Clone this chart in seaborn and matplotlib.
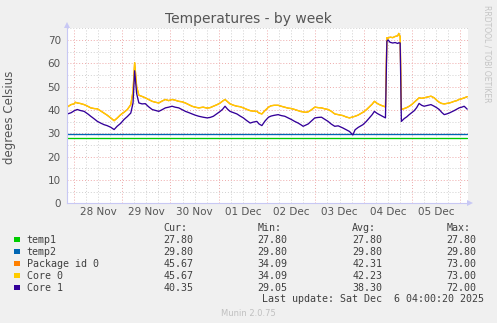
import matplotlib
matplotlib.use("Agg")
import matplotlib.pyplot as plt
import pandas as pd
import seaborn as sns
from matplotlib.patches import Rectangle
from matplotlib.ticker import MultipleLocator, FuncFormatter, NullFormatter

# ---------------------------------------------------------------- data
# sample times, hours after 28 Nov 00:00
hours = [
    -3.2, -1.4, 0.1, 0.8, 1.7, 3.1, 5.1, 7.1, 8.4, 10.1, 11.7, 13.5, 15.0, 16.5,
    18.3, 20.0, 21.5, 23.3, 24.9, 26.6, 28.3, 29.4, 30.2, 31.2, 32.3, 33.9, 35.5,
    37.1, 38.9, 40.6, 42.2, 43.8, 45.5, 47.1, 48.8, 50.3, 52.1, 53.8, 55.4, 57.0,
    58.7, 60.2, 62.1, 64.2, 66.2, 67.7, 69.3, 71.2, 72.7, 73.9, 75.1, 76.4, 77.6,
    79.4, 81.0, 82.6, 84.2, 85.8, 87.6, 89.1, 90.9, 92.0, 93.4, 95.0, 96.7, 98.0,
    99.5, 101.5, 103.0, 104.8, 106.4, 108.1, 109.7, 111.4, 112.9, 113.9, 115.1,
    116.4, 117.9, 119.7, 121.4, 123.0, 124.6, 126.3, 127.8, 129.6, 131.3, 133.6,
    135.3, 136.9, 138.6, 139.7, 141.2, 143.6, 145.2, 146.8, 148.2, 149.3, 150.7,
    151.8, 153.2, 154.8, 155.5, 156.1, 157.1, 158.4, 159.6, 160.9, 161.4, 162.1,
    162.7, 164.1, 165.3, 166.6, 167.8, 169.1, 170.3, 171.5, 172.8, 174.0, 175.5,
    177.4, 179.0, 180.2, 181.5, 182.7, 184.0, 185.2, 186.5, 187.7, 188.9, 190.2,
    191.4, 192.7, 193.9, 195.4,
]

core0 = [
    41.3, 42.3, 42.6, 43.3, 43.0, 42.8, 42.3, 41.5, 40.9, 40.6, 40.5, 39.5, 38.7, 37.8,
    36.6, 35.4, 36.5, 38.0, 39.0, 40.2, 42.3, 48.0, 60.3, 50.0, 46.3, 45.8, 45.2,
    44.5, 43.7, 43.3, 43.0, 43.8, 44.5, 44.0, 44.5, 44.2, 43.7, 43.5, 43.0, 42.3,
    41.6, 41.2, 40.9, 41.2, 40.8, 41.0, 41.6, 42.3, 43.0, 43.8, 44.5, 43.5, 42.6,
    42.0, 41.6, 41.4, 40.9, 40.3, 39.7, 39.5, 39.4, 38.7, 38.3, 39.8, 41.2, 41.8,
    42.0, 42.0, 41.6, 41.2, 40.8, 40.6, 40.2, 39.7, 39.3, 39.2, 39.0,
    39.2, 40.0, 41.2, 41.0, 40.9, 40.5, 40.2, 39.5, 38.3, 38.0, 37.6,
    37.0, 36.6, 37.0, 37.3, 37.8, 39.0, 40.0, 41.3, 42.5, 43.7, 42.8,
    42.3, 41.8, 41.3, 71.0, 70.8, 71.2, 71.0, 71.5, 71.8, 72.8, 71.5,
    40.2, 40.6, 41.0, 41.6, 42.3, 43.3, 44.2, 45.2, 45.0, 45.2, 45.5,
    45.9, 45.2, 44.2, 43.3, 42.8, 42.6, 42.8, 43.0, 43.3, 43.7, 44.0,
    44.5, 44.8, 45.2, 45.67,
]

core1 = [
    38.3, 38.8, 39.6, 39.9, 40.2, 39.8, 39.4, 38.2, 37.3, 36.2, 35.1, 34.3, 33.7, 33.3,
    32.6, 31.6, 33.0, 34.3, 35.9, 37.2, 38.7, 43.0, 56.8, 47.0, 43.0, 42.6, 42.7,
    41.4, 40.2, 39.8, 39.4, 40.1, 40.9, 41.2, 41.6, 41.2, 40.9, 40.1, 39.4, 38.9,
    38.3, 37.8, 37.3, 36.9, 36.6, 36.8, 37.3, 38.5, 39.4, 40.3, 41.6, 40.3, 39.4,
    38.8, 38.3, 37.4, 36.6, 35.5, 34.4, 34.8, 35.1, 34.0, 33.3, 35.3, 36.9, 37.4,
    37.7, 38.0, 37.6, 37.3, 36.6, 35.9, 35.1, 34.4, 33.6, 33.0, 33.5,
    34.0, 35.2, 36.6, 36.8, 36.9, 36.0, 35.1, 34.0, 33.0, 33.2, 32.3,
    31.5, 30.8, 29.3, 31.5, 32.5, 33.7, 35.0, 36.6, 38.0, 39.4, 38.5,
    38.0, 37.4, 36.6, 69.5, 70.0, 69.0, 68.7, 68.9, 68.5, 68.8, 68.7,
    35.1, 36.3, 37.0, 38.0, 38.8, 39.7, 41.0, 42.8, 42.0, 41.6, 41.9,
    42.3, 41.6, 41.0, 40.2, 39.0, 38.0, 38.3, 38.7, 39.2, 39.7, 40.3,
    40.9, 41.2, 41.6, 40.35,
]

# the package sensor follows Core 0 and is drawn underneath it
package_id0 = list(core0)

# the two board sensors hold a fixed reading all week
temp_hours = [hours[0], hours[-1]]
temp1 = [27.80, 27.80]
temp2 = [29.80, 29.80]

series_names = ["temp1", "temp2", "Package id 0", "Core 0", "Core 1"]
series_colors = ["#00cc00", "#0066b3", "#ff8000", "#ffcc00", "#330099"]

stat_cur = [27.80, 29.80, 45.67, 45.67, 40.35]
stat_min = [27.80, 29.80, 34.09, 34.09, 29.05]
stat_avg = [27.80, 29.80, 42.31, 42.23, 38.30]
stat_max = [27.80, 29.80, 73.00, 73.00, 72.00]

day_labels = ["28 Nov", "29 Nov", "30 Nov", "01 Dec", "02 Dec", "03 Dec", "04 Dec", "05 Dec"]
last_update = "Last update: Sat Dec  6 04:00:20 2025"

# ---------------------------------------------------------------- frame
parts = []
for name, t, v in [
    ("temp1", temp_hours, temp1),
    ("temp2", temp_hours, temp2),
    ("Package id 0", hours, package_id0),
    ("Core 0", hours, core0),
    ("Core 1", hours, core1),
]:
    parts.append(pd.DataFrame({"hours": t, "value": v, "series": name}))
df = pd.concat(parts, ignore_index=True)

# ---------------------------------------------------------------- figure
W, H, DPI = 497, 323, 100
BG = "#f0f0f0"
TXT = "#555555"
AXIS = "#c8c8f4"

sns.set_theme(style="white")
plt.rcParams["font.family"] = ["DejaVu Sans"]

fig = plt.figure(figsize=(W / DPI, H / DPI), dpi=DPI, facecolor=BG)

left_px, right_px, top_px, bottom_px = 67.0, 467.6, 27.6, 203.3
ax = fig.add_axes([left_px / W, 1 - bottom_px / H,
                   (right_px - left_px) / W, (bottom_px - top_px) / H])
ax.set_facecolor("white")

sns.lineplot(
    data=df, x="hours", y="value", hue="series",
    hue_order=series_names, palette=dict(zip(series_names, series_colors)),
    estimator=None, sort=False, legend=False, linewidth=0.95, ax=ax,
)

ax.set_xlim(-3.4, 195.6)
ax.set_ylim(0, 75.3)
ax.set_xlabel("")
ax.set_ylabel("")

# y axis: red grid every 10, grey every 5
ax.yaxis.set_major_locator(MultipleLocator(10))
ax.yaxis.set_minor_locator(MultipleLocator(5))
ax.grid(which="major", axis="y", color="#eeaaaa", linestyle=(0, (1, 2)), linewidth=0.7)
ax.grid(which="minor", axis="y", color="#d0d0d0", linestyle=(0, (1, 2)), linewidth=0.7)

# x axis: red grid at midnight, grey every 6 h, day names at noon
ax.xaxis.set_major_locator(MultipleLocator(24))
ax.xaxis.set_minor_locator(MultipleLocator(6))
ax.xaxis.set_major_formatter(NullFormatter())


def day_name(h, pos=None):
    k = round((h - 12) / 24)
    if abs(h - 12 - 24 * k) < 1e-6 and 0 <= k < len(day_labels):
        return day_labels[k]
    return ""


ax.xaxis.set_minor_formatter(FuncFormatter(day_name))
ax.grid(which="major", axis="x", color="#eeaaaa", linestyle=(0, (1, 2)), linewidth=0.7)
ax.grid(which="minor", axis="x", color="#d0d0d0", linestyle=(0, (1, 2)), linewidth=0.7)
ax.set_axisbelow(True)

ax.tick_params(axis="x", which="major", direction="out", length=2.5, width=0.7,
               color="#ee9999", labelbottom=False)
ax.tick_params(axis="x", which="minor", length=0, pad=3, labelsize=7.5, labelcolor=TXT)
ax.tick_params(axis="y", which="major", direction="out", length=2.5, width=0.7,
               color="#ee9999", pad=2, labelsize=7.5, labelcolor=TXT)
ax.tick_params(axis="y", which="minor", direction="out", length=2.5, width=0.7,
               color="#cccccc")

for side in ("top", "right"):
    ax.spines[side].set_visible(False)
for side in ("left", "bottom"):
    ax.spines[side].set_color(AXIS)
    ax.spines[side].set_linewidth(0.8)

# axis arrows
ax_h = bottom_px - top_px
ax_w = right_px - left_px
y_tip = 1 + (top_px - 21.0) / ax_h
x_tip = 1 + (474.0 - right_px) / ax_w
ax.plot([0, 0], [1, y_tip - 0.02], transform=ax.transAxes, color=AXIS, lw=0.8, clip_on=False)
ax.plot([1, x_tip - 0.01], [0, 0], transform=ax.transAxes, color=AXIS, lw=0.8, clip_on=False)
ax.plot([0], [y_tip - 0.02], marker="^", markersize=5, color=AXIS, transform=ax.transAxes,
        clip_on=False, markeredgewidth=0)
ax.plot([x_tip - 0.01], [0], marker=">", markersize=5, color=AXIS, transform=ax.transAxes,
        clip_on=False, markeredgewidth=0)

# ---------------------------------------------------------------- texts
def fx(px):
    return px / W


def fy(py):
    return 1 - py / H


fig.text(0.5, fy(19), "Temperatures - by week", ha="center", va="center",
         fontsize=10, color=TXT)
fig.text(fx(10), fy(117), "degrees Celsius", rotation=90, ha="center", va="center",
         fontsize=8.5, color=TXT)
fig.text(fx(487), fy(54), "RRDTOOL / TOBI OETIKER", rotation=270, ha="center",
         va="center", fontsize=5.5, color="#c4c4c4")

# ---------------------------------------------------------------- legend table
MONO = dict(family="DejaVu Sans Mono", fontsize=7.2, color="#404040", va="center")
col_x = [163.3, 257.7, 352.3, 446.7]
headers = ["Cur:", "Min:", "Avg:", "Max:"]
for cx, hd in zip(col_x, headers):
    fig.text(fx(cx), fy(228.3), hd, ha="left", **MONO)

row0, row_step = 239.6, 12.0
for i, name in enumerate(series_names):
    ry = row0 + i * row_step
    sq = 5.6
    fig.patches.append(Rectangle((fx(14), fy(ry + sq / 2)), sq / W, sq / H,
                                 transform=fig.transFigure, facecolor=series_colors[i],
                                 edgecolor="none"))
    fig.text(fx(26.7), fy(ry), name, ha="left", **MONO)
    for cx, vals in zip(col_x, [stat_cur, stat_min, stat_avg, stat_max]):
        fig.text(fx(cx), fy(ry), f"{vals[i]:.2f}", ha="left", **MONO)

fig.text(fx(261.7), fy(299.5), last_update, ha="left", **MONO)
fig.text(0.5, fy(313.5), "Munin 2.0.75", ha="center", va="center", fontsize=6,
         color="#c0c0c0")

fig.savefig("out.png", dpi=DPI, facecolor=BG)
